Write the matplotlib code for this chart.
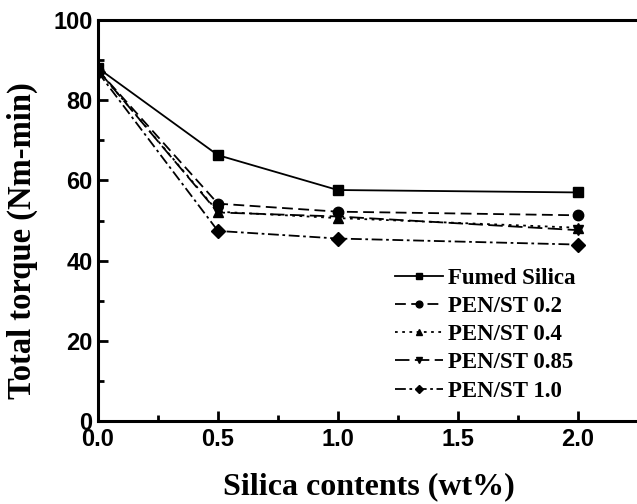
import matplotlib
matplotlib.use("Agg")
import matplotlib.pyplot as plt
from matplotlib.ticker import MultipleLocator

silica = [0.0, 0.5, 1.0, 2.0]
fumed = [88.0, 66.3, 57.6, 57.0]
pen02 = [87.5, 54.2, 52.2, 51.3]
pen04 = [87.5, 52.2, 50.6, 48.2]
pen085 = [87.5, 52.0, 51.0, 47.6]
pen10 = [87.0, 47.4, 45.5, 44.0]
labels = ["Fumed Silica", "PEN/ST 0.2", "PEN/ST 0.4", "PEN/ST 0.85", "PEN/ST 1.0"]

fig = plt.figure(figsize=(6.37, 5.04), dpi=100)
ax = fig.add_axes([98/637, 83/504, 542/637, 401/504])

series = [fumed, pen02, pen04, pen085, pen10]
markers = ["s", "o", "^", "v", "D"]
styles = ["-", (0, (6, 3)), (0, (1.5, 2.5)), (0, (8, 3)), (0, (6, 2, 1.5, 2))]
msizes = [7, 7.5, 7.5, 7.5, 7]
for y, m, ls, lab, ms in zip(series, markers, styles, labels, msizes):
    ax.plot(silica, y, color="black", linestyle=ls, marker=m, markersize=ms,
            linewidth=1.3, label=lab)

ax.set_xlim(0, 2.26)
ax.set_ylim(0, 100)
ax.xaxis.set_major_locator(MultipleLocator(0.5))
ax.xaxis.set_minor_locator(MultipleLocator(0.25))
ax.yaxis.set_major_locator(MultipleLocator(20))
ax.yaxis.set_minor_locator(MultipleLocator(10))
ax.tick_params(which="both", direction="in", width=2, top=False, right=False)
ax.tick_params(which="major", length=7, labelsize=17)
ax.tick_params(axis="y", which="major", pad=4)
ax.tick_params(axis="x", which="major", pad=5)
ax.tick_params(which="minor", length=4)
for lbl in ax.get_xticklabels() + ax.get_yticklabels():
    lbl.set_fontfamily("Liberation Sans")
    lbl.set_fontweight("bold")
for s in ax.spines.values():
    s.set_linewidth(2.2)

ax.set_xlabel("Silica contents (wt%)", fontsize=23, fontweight="bold",
              family="Liberation Serif", labelpad=15)
ax.set_ylabel("Total torque (Nm-min)", fontsize=23.5, fontweight="bold",
              family="Liberation Serif")
ax.yaxis.set_label_coords(-0.11, 0.45)

leg = ax.legend(loc="upper left", bbox_to_anchor=(297/542, (421-268)/401),
                frameon=False, borderpad=0, borderaxespad=0,
                prop={"family": "Liberation Serif", "weight": "bold", "size": 16.5},
                handlelength=2.1, handletextpad=0.2, labelspacing=0.31,
                markerscale=0.65)

fig.savefig("out.png", dpi=100)
